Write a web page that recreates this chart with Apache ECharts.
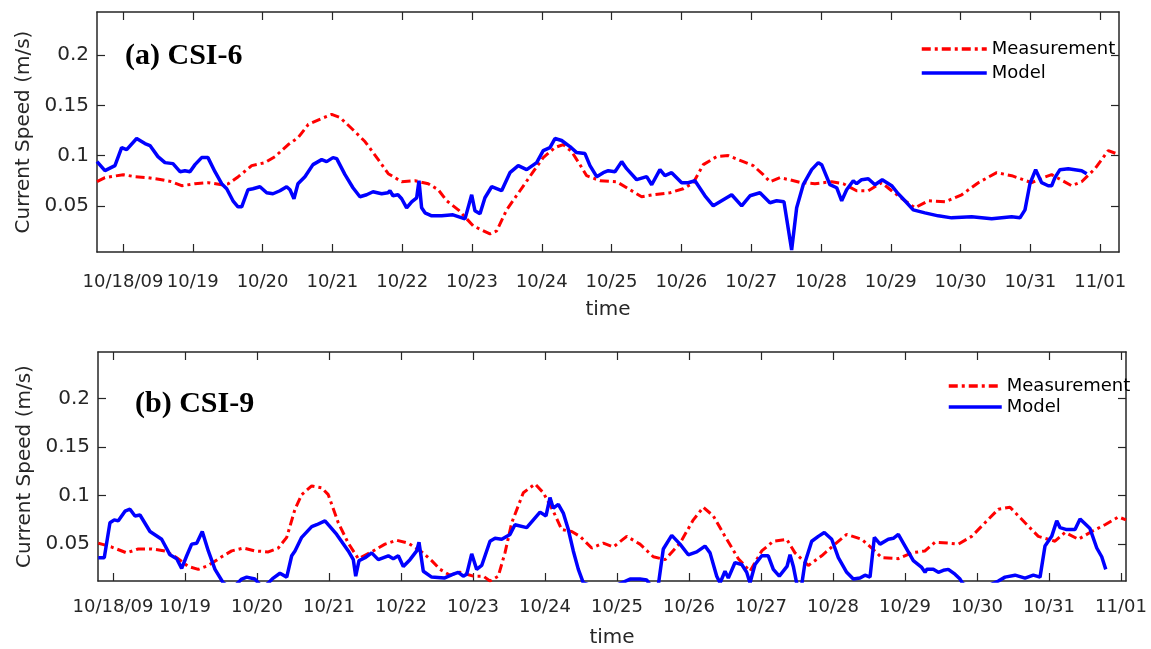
<!DOCTYPE html>
<html>
<head>
<meta charset="utf-8">
<title>Current speed at CSI-6 and CSI-9</title>
<script src="https://cdn.jsdelivr.net/npm/echarts@6/dist/echarts.min.js"></script>
<style>
  html, body { margin: 0; padding: 0; background: #ffffff; }
  #chart { width: 1151px; height: 649px; }
</style>
</head>
<body>
<div id="chart"></div>
<script>
// Time axis: days counted from 10/18 00:00
const tickDays = [0, 1, 2, 3, 4, 5, 6, 7, 8, 9, 10, 11, 12, 13, 14];
const tickLabels = ['10/18/09', '10/19', '10/20', '10/21', '10/22', '10/23', '10/24',
  '10/25', '10/26', '10/27', '10/28', '10/29', '10/30', '10/31', '11/01'];
const speedTicks = [0.05, 0.1, 0.15, 0.2];

// (a) CSI-6, measured speed (m/s)
const csi6MeasDays = [-0.372, -0.258, 0.004, 0.172, 0.362, 0.554, 0.698, 0.841, 1.032, 1.222,
  1.414, 1.509, 1.652, 1.844, 2.034, 2.178, 2.368, 2.511, 2.655, 2.847, 2.990, 3.109, 3.277,
  3.467, 3.658, 3.801, 3.993, 4.183, 4.374, 4.517, 4.638, 4.804, 5.019, 5.258, 5.354, 5.497,
  5.688, 5.878, 6.021, 6.189, 6.308, 6.428, 6.547, 6.643, 6.834, 7.073, 7.264, 7.431, 7.597,
  7.837, 8.027, 8.171, 8.314, 8.506, 8.672, 8.887, 9.030, 9.173, 9.269, 9.413, 9.546, 9.723,
  9.914, 10.153, 10.319, 10.511, 10.678, 10.870, 11.013, 11.203, 11.347, 11.537, 11.777,
  12.016, 12.254, 12.517, 12.732, 13.019, 13.185, 13.305, 13.592, 13.735, 13.926, 14.116, 14.269];
const csi6MeasSpeed = [0.074, 0.078, 0.081, 0.079, 0.078, 0.076, 0.074, 0.070, 0.072, 0.073,
  0.071, 0.072, 0.079, 0.090, 0.093, 0.099, 0.111, 0.118, 0.131, 0.137, 0.141, 0.138, 0.127,
  0.114, 0.096, 0.082, 0.074, 0.075, 0.072, 0.066, 0.055, 0.046, 0.030, 0.022, 0.025, 0.046,
  0.065, 0.084, 0.098, 0.108, 0.111, 0.104, 0.091, 0.080, 0.075, 0.074, 0.066, 0.059, 0.061,
  0.063, 0.067, 0.073, 0.091, 0.099, 0.100, 0.094, 0.090, 0.081, 0.074, 0.078, 0.076, 0.073,
  0.072, 0.074, 0.072, 0.065, 0.065, 0.073, 0.065, 0.055, 0.048, 0.055, 0.054,
  0.061, 0.073, 0.083, 0.080, 0.073, 0.078, 0.081, 0.070, 0.074, 0.087, 0.105, 0.101];

// (a) CSI-6, model speed (m/s)
const csi6ModelDays = [-0.372, -0.258, -0.115, -0.019, 0.053, 0.196, 0.315, 0.387, 0.501, 0.602,
  0.716, 0.817, 0.888, 0.960, 1.032, 1.127, 1.218, 1.318, 1.414, 1.486, 1.576, 1.648, 1.701,
  1.791, 1.862, 1.963, 2.059, 2.149, 2.249, 2.345, 2.393, 2.450, 2.507, 2.607, 2.722, 2.847,
  2.918, 3.009, 3.062, 3.181, 3.295, 3.395, 3.491, 3.582, 3.706, 3.797, 3.825, 3.868, 3.940,
  3.993, 4.064, 4.136, 4.208, 4.241, 4.279, 4.327, 4.423, 4.566, 4.728, 4.900, 4.996, 5.043,
  5.115, 5.186, 5.282, 5.425, 5.544, 5.663, 5.784, 5.927, 6.021, 6.117, 6.189, 6.285, 6.404,
  6.500, 6.619, 6.691, 6.787, 6.881, 6.953, 7.049, 7.145, 7.216, 7.360, 7.503, 7.575, 7.693,
  7.765, 7.861, 8.004, 8.099, 8.195, 8.338, 8.457, 8.577, 8.721, 8.864, 8.983, 9.126, 9.269,
  9.365, 9.470, 9.580, 9.652, 9.746, 9.867, 9.962, 10.010, 10.129, 10.225, 10.297, 10.368,
  10.463, 10.511, 10.583, 10.678, 10.774, 10.878, 11.013, 11.107, 11.203, 11.322, 11.490,
  11.680, 11.872, 12.159, 12.446, 12.732, 12.851, 12.923, 12.994, 13.076, 13.162, 13.256,
  13.305, 13.352, 13.424, 13.543, 13.639, 13.735, 13.807];
const csi6ModelSpeed = [0.094, 0.085, 0.090, 0.108, 0.106, 0.117, 0.112, 0.110, 0.099, 0.093,
  0.092, 0.084, 0.085, 0.084, 0.091, 0.098, 0.098, 0.084, 0.072, 0.067, 0.055, 0.049, 0.049,
  0.066, 0.067, 0.069, 0.063, 0.062, 0.065, 0.069, 0.066, 0.057, 0.072, 0.079, 0.091, 0.096,
  0.094, 0.098, 0.097, 0.081, 0.068, 0.059, 0.061, 0.064, 0.062, 0.063, 0.065, 0.060, 0.061,
  0.057, 0.048, 0.054, 0.058, 0.075, 0.048, 0.043, 0.040, 0.040, 0.041, 0.037, 0.061, 0.045,
  0.042, 0.058, 0.069, 0.065, 0.083, 0.090, 0.086, 0.093, 0.105, 0.108, 0.117, 0.115, 0.109,
  0.103, 0.102, 0.090, 0.079, 0.083, 0.085, 0.084, 0.094, 0.087, 0.076, 0.079, 0.071, 0.086,
  0.080, 0.083, 0.073, 0.073, 0.075, 0.060, 0.050, 0.055, 0.061, 0.050, 0.060, 0.063, 0.053,
  0.055, 0.054, 0.006, 0.048, 0.071, 0.086, 0.093, 0.091, 0.071, 0.068, 0.055, 0.066,
  0.075, 0.072, 0.076, 0.077, 0.071, 0.076, 0.070, 0.062, 0.055, 0.046, 0.043,
  0.040, 0.038, 0.039, 0.037, 0.039, 0.038, 0.046, 0.072, 0.086, 0.073, 0.070,
  0.070, 0.078, 0.086, 0.087, 0.086, 0.085, 0.082];

// (b) CSI-9, measured speed (m/s)
const csi9MeasDays = [-0.204, -0.018, 0.190, 0.351, 0.538, 0.722, 0.885, 1.046, 1.185, 1.324,
  1.510, 1.649, 1.810, 1.972, 2.157, 2.296, 2.413, 2.528, 2.621, 2.760, 2.899, 2.990, 3.129,
  3.268, 3.407, 3.593, 3.778, 3.940, 4.101, 4.288, 4.426, 4.542, 4.681, 4.819, 5.004, 5.143,
  5.236, 5.351, 5.444, 5.538, 5.699, 5.861, 5.976, 6.115, 6.232, 6.371, 6.486, 6.649, 6.810,
  6.949, 7.135, 7.319, 7.504, 7.667, 7.875, 8.060, 8.199, 8.338, 8.500, 8.685, 8.847, 9.010,
  9.171, 9.357, 9.472, 9.657, 9.843, 10.028, 10.190, 10.399, 10.538, 10.676, 10.907, 11.093,
  11.278, 11.417, 11.601, 11.740, 11.926, 12.111, 12.296, 12.458, 12.667, 12.851, 13.083,
  13.222, 13.407, 13.593, 13.778, 13.963, 14.069];
const csi9MeasSpeed = [0.051, 0.047, 0.041, 0.045, 0.045, 0.043, 0.036, 0.027, 0.024, 0.028,
  0.037, 0.043, 0.046, 0.043, 0.042, 0.046, 0.057, 0.086, 0.101, 0.110, 0.108, 0.101, 0.072,
  0.051, 0.035, 0.042, 0.050, 0.054, 0.051, 0.042, 0.033, 0.024, 0.018, 0.021, 0.017, 0.017,
  0.012, 0.017, 0.041, 0.072, 0.103, 0.112, 0.103, 0.084, 0.065, 0.063, 0.058, 0.046, 0.051,
  0.047, 0.058, 0.050, 0.037, 0.034, 0.051, 0.075, 0.088, 0.079, 0.058, 0.035, 0.022, 0.043,
  0.053, 0.055, 0.041, 0.028, 0.038, 0.050, 0.060, 0.055, 0.046, 0.036, 0.035, 0.041,
  0.043, 0.052, 0.051, 0.050, 0.058, 0.072, 0.086, 0.088, 0.072, 0.058, 0.053,
  0.062, 0.055, 0.063, 0.070, 0.078, 0.075];

// (b) CSI-9, model speed (m/s); values under the axis floor are cut at the frame
const csi9ModelDays = [-0.204, -0.121, -0.042, 0.018, 0.074, 0.167, 0.236, 0.306, 0.375, 0.514,
  0.676, 0.792, 0.885, 0.954, 1.024, 1.093, 1.163, 1.240, 1.324, 1.417, 1.532, 1.653, 1.788,
  1.857, 1.972, 2.018, 2.083, 2.157, 2.226, 2.319, 2.413, 2.482, 2.528, 2.621, 2.760, 2.829,
  2.944, 2.990, 3.107, 3.268, 3.338, 3.371, 3.417, 3.500, 3.593, 3.685, 3.824, 3.893, 3.963,
  4.032, 4.125, 4.218, 4.250, 4.310, 4.426, 4.601, 4.726, 4.796, 4.865, 4.913, 4.982, 5.051,
  5.121, 5.236, 5.306, 5.399, 5.514, 5.583, 5.746, 5.931, 6.014, 6.069, 6.115, 6.185, 6.254,
  6.324, 6.393, 6.463, 6.532, 6.833, 7.181, 7.319, 7.413, 7.486, 7.574, 7.643, 7.760, 7.875,
  7.990, 8.107, 8.222, 8.292, 8.385, 8.431, 8.500, 8.546, 8.639, 8.732, 8.801, 8.847, 8.917,
  9.010, 9.101, 9.171, 9.254, 9.361, 9.403, 9.449, 9.500, 9.565, 9.611, 9.704, 9.796, 9.879,
  9.982, 10.074, 10.190, 10.282, 10.375, 10.444, 10.514, 10.574, 10.653, 10.768, 10.838,
  10.907, 11.000, 11.115, 11.232, 11.278, 11.301, 11.393, 11.463, 11.532, 11.601, 11.694,
  11.764, 11.806, 12.042, 12.296, 12.389, 12.528, 12.667, 12.782, 12.875, 12.944, 13.037,
  13.107, 13.153, 13.246, 13.361, 13.431, 13.500, 13.569, 13.663, 13.732, 13.788];
const csi9ModelSpeed = [0.036, 0.036, 0.072, 0.075, 0.074, 0.084, 0.086, 0.079, 0.080, 0.063,
  0.055, 0.039, 0.035, 0.025, 0.038, 0.050, 0.051, 0.063, 0.043, 0.024, 0.010, 0.004, 0.014,
  0.016, 0.014, 0.010, 0.005, 0.010, 0.015, 0.020, 0.016, 0.038, 0.043, 0.057, 0.068, 0.070,
  0.074, 0.070, 0.060, 0.043, 0.034, 0.017, 0.033, 0.036, 0.041, 0.034, 0.038, 0.035, 0.038,
  0.027, 0.034, 0.043, 0.052, 0.022, 0.016, 0.015, 0.019, 0.021, 0.017, 0.019, 0.040, 0.024,
  0.028, 0.053, 0.056, 0.055, 0.060, 0.070, 0.067, 0.083, 0.079, 0.098, 0.087, 0.091, 0.082,
  0.065, 0.043, 0.024, 0.010, 0.002, 0.014, 0.014, 0.013, 0.005, 0.008, 0.045, 0.059, 0.050,
  0.039, 0.042, 0.048, 0.041, 0.017, 0.010, 0.022, 0.015, 0.031, 0.029, 0.021, 0.010, 0.029,
  0.038, 0.038, 0.024, 0.017, 0.027, 0.039, 0.027, 0.008, 0.008, 0.031, 0.053, 0.058, 0.062,
  0.055, 0.036, 0.021, 0.014, 0.015, 0.018, 0.016, 0.057, 0.050, 0.055, 0.056,
  0.060, 0.048, 0.033, 0.026, 0.021, 0.024, 0.024, 0.021, 0.023, 0.024, 0.019,
  0.014, 0.009, 0.003, 0.012, 0.016, 0.018, 0.015, 0.018, 0.016, 0.048, 0.058,
  0.074, 0.067, 0.065, 0.065, 0.076, 0.071, 0.066, 0.046, 0.037, 0.024];

const zip = (xs, ys) => xs.map((x, i) => [x, ys[i]]);

const AXIS_COLOR = '#262626';
const SANS = 'DejaVu Sans';

function panelAxes(gridIndex, xMin, xMax, yMin, yMax, labelMargin, timeGap, yNameGap) {
  const line = { show: true, onZero: false, lineStyle: { color: AXIS_COLOR, width: 1.5 } };
  const tick = { show: true, inside: true, length: 8, lineStyle: { color: AXIS_COLOR, width: 1.2 } };
  const x = [
    {
      gridIndex, type: 'value', position: 'bottom', min: xMin, max: xMax,
      axisLine: line,
      axisTick: Object.assign({ customValues: tickDays }, tick),
      axisLabel: {
        customValues: tickDays,
        formatter: v => tickLabels[Math.round(v)],
        fontFamily: SANS, fontSize: 18, color: AXIS_COLOR, margin: labelMargin
      },
      splitLine: { show: false },
      name: 'time', nameLocation: 'middle', nameGap: timeGap,
      nameTextStyle: { fontFamily: SANS, fontSize: 20, color: AXIS_COLOR }
    },
    {
      gridIndex, type: 'value', position: 'top', min: xMin, max: xMax,
      axisLine: line,
      axisTick: Object.assign({ customValues: tickDays }, tick),
      axisLabel: { show: false },
      splitLine: { show: false }
    }
  ];
  const y = [
    {
      gridIndex, type: 'value', position: 'left', min: yMin, max: yMax,
      axisLine: line,
      axisTick: Object.assign({ customValues: speedTicks }, tick),
      axisLabel: {
        customValues: speedTicks,
        formatter: v => String(+v.toFixed(2)),
        fontFamily: SANS, fontSize: 20, color: AXIS_COLOR, margin: 8
      },
      splitLine: { show: false },
      name: 'Current Speed (m/s)', nameLocation: 'middle', nameGap: yNameGap,
      nameTextStyle: { fontFamily: SANS, fontSize: 20, color: AXIS_COLOR }
    },
    {
      gridIndex, type: 'value', position: 'right', min: yMin, max: yMax,
      axisLine: line,
      axisTick: Object.assign({ customValues: speedTicks }, tick),
      axisLabel: { show: false },
      splitLine: { show: false }
    }
  ];
  return { x, y };
}

const axesA = panelAxes(0, -0.372, 14.27, 0.004, 0.243, 21, 48, 62);
const axesB = panelAxes(1, -0.208, 14.069, 0.012, 0.248, 17, 47, 62);

const measStyle = { color: '#ff0000', width: 3, type: [9, 4, 3, 4], cap: 'butt' };
const modelStyle = { color: '#0000ff', width: 3.5, type: 'solid' };

function lineSeries(name, data, xIdx, yIdx, style) {
  return {
    name, type: 'line', data, xAxisIndex: xIdx, yAxisIndex: yIdx,
    showSymbol: false, symbol: 'none', clip: true, animation: false,
    lineStyle: style, itemStyle: { color: style.color }
  };
}

const legendText = { fontFamily: SANS, fontSize: 18, color: '#000000' };
const titleText = { fontFamily: 'Liberation Serif', fontWeight: 'bold', fontSize: 30, color: '#000' };

const option = {
  backgroundColor: '#ffffff',
  animation: false,
  title: [
    { text: '(a) CSI-6', left: 120, top: 36, textStyle: titleText },
    { text: '(b) CSI-9', left: 130, top: 384, textStyle: titleText }
  ],
  legend: [
    { orient: 'vertical', left: 915, top: 35, itemWidth: 65, itemHeight: 14, itemGap: 6,
      itemStyle: { opacity: 0 }, lineStyle: { width: 3.5 },
      data: ['Measurement', 'Model'], textStyle: legendText, selectedMode: false },
    { orient: 'vertical', left: 942, top: 372, itemWidth: 53, itemHeight: 14, itemGap: 3,
      itemStyle: { opacity: 0 }, lineStyle: { width: 3.5 },
      data: ['Measurement', 'Model'], textStyle: legendText, selectedMode: false }
  ],
  grid: [
    { left: 97, top: 12, width: 1022, height: 240, containLabel: false },
    { left: 98, top: 352, width: 1028, height: 229, containLabel: false }
  ],
  xAxis: [].concat(axesA.x, axesB.x),
  yAxis: [].concat(axesA.y, axesB.y),
  series: [
    lineSeries('Measurement', zip(csi6MeasDays, csi6MeasSpeed), 0, 0, measStyle),
    lineSeries('Model', zip(csi6ModelDays, csi6ModelSpeed), 0, 0, modelStyle),
    lineSeries('Measurement', zip(csi9MeasDays, csi9MeasSpeed), 2, 2, measStyle),
    lineSeries('Model', zip(csi9ModelDays, csi9ModelSpeed), 2, 2, modelStyle)
  ]
};

const chart = echarts.init(document.getElementById('chart'), null, { renderer: 'canvas' });
chart.setOption(option);
</script>
</body>
</html>
